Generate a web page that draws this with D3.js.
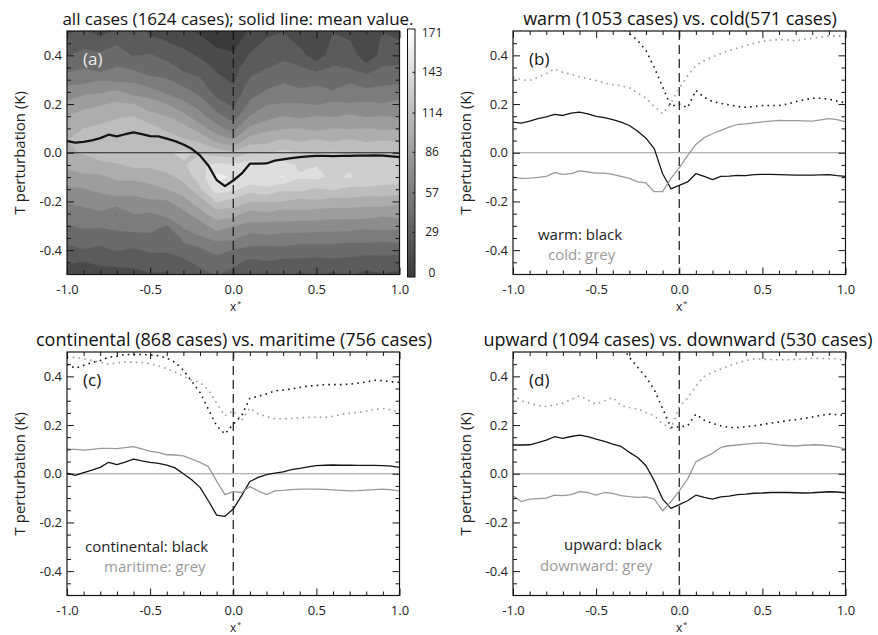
<!DOCTYPE html>
<html>
<head>
<meta charset="utf-8">
<script src="https://cdn.jsdelivr.net/npm/d3@7"></script>
<style>
body { margin: 0; background: #fff; }
text { font-family: "Open Sans", sans-serif; }
</style>
</head>
<body>
<div id="chart"></div>
<script>
///////////////////////////////////////////////////////////////////////////
/////////////////////////////// Data //////////////////////////////////////
///////////////////////////////////////////////////////////////////////////

var xs = [-1.00,-0.95,-0.90,-0.85,-0.80,-0.75,-0.70,-0.65,-0.60,-0.55,-0.50,-0.45,-0.40,-0.35,-0.30,-0.25,-0.20,-0.15,-0.10,-0.05,
  0.00,0.05,0.10,0.15,0.20,0.25,0.30,0.35,0.40,0.45,0.50,0.55,0.60,0.65,0.70,0.75,0.80,0.85,0.90,0.95,1.00];

// (a) mean of all cases
var allMean = [0.048,0.042,0.045,0.051,0.060,0.074,0.067,0.076,0.084,0.076,0.068,0.067,0.058,0.048,0.034,0.016,-0.011,-0.052,-0.112,-0.137,
  -0.114,-0.086,-0.045,-0.045,-0.044,-0.032,-0.027,-0.022,-0.018,-0.015,-0.013,-0.013,-0.014,-0.013,-0.013,-0.012,-0.012,-0.011,-0.012,-0.015,-0.018];

// (b) warm vs cold
var warmMean = [0.126,0.122,0.130,0.140,0.147,0.158,0.153,0.163,0.167,0.160,0.149,0.144,0.136,0.126,0.112,0.088,0.060,0.016,-0.086,-0.148,
  -0.134,-0.120,-0.086,-0.097,-0.110,-0.097,-0.096,-0.093,-0.094,-0.090,-0.089,-0.089,-0.090,-0.091,-0.092,-0.092,-0.092,-0.091,-0.090,-0.094,-0.097];
var coldMean = [-0.100,-0.105,-0.104,-0.101,-0.097,-0.082,-0.089,-0.086,-0.074,-0.079,-0.084,-0.084,-0.089,-0.097,-0.105,-0.120,-0.124,-0.160,-0.160,-0.105,
  -0.062,-0.012,0.034,0.062,0.078,0.092,0.105,0.116,0.119,0.123,0.127,0.130,0.133,0.132,0.132,0.131,0.130,0.135,0.140,0.136,0.127];
var warmSd = [0.72,0.71,0.70,0.70,0.69,0.68,0.67,0.66,0.65,0.63,0.61,0.59,0.56,0.53,0.49,0.46,0.42,0.35,0.27,0.19,
  0.200,0.185,0.256,0.228,0.210,0.203,0.197,0.190,0.187,0.190,0.194,0.194,0.194,0.200,0.210,0.217,0.224,0.224,0.220,0.212,0.205];
var coldSd = [0.310,0.300,0.297,0.310,0.325,0.345,0.330,0.322,0.312,0.304,0.297,0.286,0.280,0.275,0.267,0.245,0.225,0.190,0.160,0.205,
  0.265,0.315,0.358,0.378,0.393,0.408,0.420,0.430,0.440,0.450,0.457,0.462,0.465,0.463,0.460,0.466,0.470,0.475,0.480,0.480,0.477];

// (c) continental vs maritime
var contMean = [0.003,-0.007,0.005,0.015,0.026,0.047,0.037,0.048,0.060,0.053,0.047,0.043,0.035,0.024,0.000,-0.025,-0.056,-0.111,-0.170,-0.175,
  -0.145,-0.090,-0.032,-0.015,-0.004,0.003,0.008,0.017,0.022,0.028,0.033,0.035,0.036,0.035,0.035,0.034,0.034,0.034,0.033,0.031,0.026];
var mariMean = [0.101,0.100,0.097,0.100,0.104,0.104,0.103,0.107,0.111,0.102,0.092,0.088,0.078,0.077,0.073,0.060,0.047,0.029,-0.030,-0.086,
  -0.073,-0.077,-0.053,-0.070,-0.086,-0.070,-0.068,-0.065,-0.063,-0.063,-0.063,-0.064,-0.066,-0.068,-0.070,-0.069,-0.067,-0.065,-0.063,-0.066,-0.070];
var contSd = [0.450,0.433,0.445,0.457,0.465,0.478,0.483,0.490,0.490,0.490,0.488,0.485,0.475,0.458,0.425,0.380,0.334,0.265,0.197,0.163,
  0.204,0.238,0.310,0.318,0.328,0.340,0.344,0.348,0.354,0.360,0.363,0.366,0.366,0.366,0.368,0.372,0.377,0.384,0.382,0.378,0.375];
var mariSd = [0.478,0.478,0.472,0.465,0.458,0.450,0.455,0.459,0.458,0.457,0.452,0.443,0.432,0.418,0.400,0.384,0.375,0.345,0.290,0.238,
  0.259,0.218,0.270,0.246,0.235,0.226,0.226,0.227,0.229,0.232,0.232,0.232,0.236,0.244,0.248,0.252,0.258,0.264,0.268,0.262,0.255];

// (d) upward vs downward
var upMean = [0.118,0.118,0.119,0.128,0.138,0.152,0.145,0.153,0.159,0.152,0.142,0.133,0.122,0.112,0.088,0.067,0.033,-0.029,-0.104,-0.142,
  -0.127,-0.111,-0.088,-0.097,-0.104,-0.095,-0.092,-0.086,-0.084,-0.080,-0.079,-0.077,-0.077,-0.077,-0.078,-0.079,-0.078,-0.076,-0.074,-0.075,-0.078];
var downMean = [-0.090,-0.114,-0.104,-0.102,-0.100,-0.088,-0.090,-0.086,-0.073,-0.077,-0.088,-0.077,-0.081,-0.090,-0.094,-0.097,-0.095,-0.104,-0.152,-0.115,
  -0.070,-0.022,0.049,0.067,0.084,0.108,0.115,0.118,0.122,0.125,0.127,0.123,0.119,0.116,0.114,0.117,0.119,0.118,0.115,0.110,0.101];
var upSd = [0.75,0.74,0.73,0.72,0.71,0.70,0.69,0.68,0.66,0.64,0.62,0.60,0.57,0.53,0.478,0.437,0.397,0.345,0.268,0.190,
  0.193,0.197,0.245,0.220,0.207,0.197,0.190,0.190,0.193,0.197,0.202,0.208,0.212,0.218,0.222,0.227,0.233,0.240,0.245,0.243,0.238];
var downSd = [0.327,0.300,0.290,0.280,0.276,0.283,0.290,0.305,0.320,0.303,0.286,0.300,0.313,0.279,0.272,0.266,0.252,0.238,0.205,0.186,
  0.275,0.310,0.360,0.400,0.416,0.430,0.443,0.455,0.465,0.471,0.470,0.469,0.468,0.468,0.470,0.472,0.474,0.474,0.472,0.472,0.464];

// (a) number of cases per (x*, T) cell; rows from T=0.5 down to T=-0.5
var gridX = [-1.0,-0.9,-0.8,-0.7,-0.6,-0.5,-0.4,-0.3,-0.2,-0.1,0.0,0.1,0.2,0.3,0.4,0.5,0.6,0.7,0.8,0.9,1.0];
var gridY = [0.5,0.45,0.4,0.35,0.3,0.25,0.2,0.15,0.1,0.05,0.0,-0.05,-0.1,-0.15,-0.2,-0.25,-0.3,-0.35,-0.4,-0.45,-0.5];
var caseCounts = [
  [26,30,24,30,34,26,22,18,12,8,6,16,24,28,22,22,28,24,22,28,24],
  [34,40,34,42,38,32,30,24,18,12,10,22,32,34,26,16,32,30,16,32,30],
  [42,46,46,48,42,44,38,34,26,18,16,30,38,40,34,20,36,38,18,34,38],
  [52,56,50,58,54,50,48,40,36,26,22,38,42,46,44,38,44,42,34,44,44],
  [64,66,70,68,68,60,58,48,44,32,26,44,52,54,50,52,50,54,50,52,54],
  [78,82,84,88,80,78,68,64,52,38,32,52,58,64,60,62,58,64,60,62,62],
  [88,96,98,102,100,92,86,74,66,48,40,60,70,72,72,70,74,72,74,72,76],
  [100,104,110,112,114,104,100,90,76,62,50,72,80,86,82,86,84,88,84,86,84],
  [106,114,116,122,118,120,110,106,92,76,66,88,96,98,100,96,100,98,100,98,98],
  [114,116,122,124,126,122,124,116,112,96,88,106,110,116,112,116,112,116,112,114,112],
  [110,116,118,124,122,128,126,132,126,122,116,128,126,132,128,126,130,124,126,124,126],
  [104,104,112,112,118,116,124,126,140,146,144,150,148,148,140,142,138,140,134,138,132],
  [92,98,96,104,102,108,108,120,134,162,154,156,152,158,144,146,140,144,136,140,134],
  [84,84,90,90,94,92,100,104,126,150,146,134,140,130,132,126,130,124,126,122,124],
  [72,78,76,82,78,84,84,96,106,130,122,114,114,114,108,112,106,110,104,108,102],
  [66,64,70,56,72,70,78,80,96,106,106,94,98,92,96,92,94,90,94,88,92],
  [56,60,58,62,60,64,56,74,78,94,86,82,80,82,78,80,76,80,74,78,74],
  [50,48,52,50,54,52,44,60,70,74,74,64,68,64,66,62,66,60,64,60,64],
  [36,42,38,44,40,46,44,52,54,64,56,54,50,54,48,52,48,52,46,50,46],
  [30,28,32,30,34,32,38,38,48,48,48,38,42,38,40,36,40,36,38,34,38],
  [20,24,20,26,22,28,26,34,36,44,36,32,28,32,26,30,26,30,24,28,24]
];

var barTicks = [0,29,57,86,114,143,171];
var xTicks = [-1.0,-0.5,0.0,0.5,1.0];
var yTicks = [-0.4,-0.2,0.0,0.2,0.4];
var xMinor = [-0.9,-0.8,-0.7,-0.6,-0.4,-0.3,-0.2,-0.1,0.1,0.2,0.3,0.4,0.6,0.7,0.8,0.9];
var yMinor = [-0.45,-0.35,-0.3,-0.25,-0.15,-0.1,-0.05,0.05,0.1,0.15,0.25,0.3,0.35,0.45];

var titles = ["all cases (1624 cases); solid line: mean value.",
  "warm (1053 cases) vs. cold(571 cases)",
  "continental (868 cases) vs. maritime (756 cases)",
  "upward (1094 cases) vs. downward (530 cases)"];

///////////////////////////////////////////////////////////////////////////
/////////////////////////// Set up svg ////////////////////////////////////
///////////////////////////////////////////////////////////////////////////

var width = 878, height = 635;
var plotW = 332.5, plotH = 243.5;
var black = "#151515", grey = "#9a9a9a";

var svg = d3.select("#chart").append("svg")
  .attr("width", width)
  .attr("height", height);
var defs = svg.append("defs");

var solid = function(v, c){ return {v: v, col: c, w: 1.3, dash: null}; };
var dotted = function(v, c){ return {v: v, col: c, w: 1.6, dash: "1.6,4.2"}; };

var panels = [
  {id: "a", left: 67, top: 31, title: titles[0], titleX: 238, titleSize: 17, zeroCol: "#222", labelCol: "#eee",
    lines: [{v: allMean, col: black, w: 2.3, dash: null}], legend: []},
  {id: "b", left: 513, top: 31, title: titles[1], titleX: 680, titleSize: 18, zeroCol: grey, labelCol: black,
    lines: [dotted(warmSd, black), dotted(coldSd, grey), solid(warmMean, black), solid(coldMean, grey)],
    legend: [{t: "warm: black", c: "#222", dx: 25, y: 208.8}, {t: "cold: grey", c: grey, dx: 35, y: 229.4}]},
  {id: "c", left: 67, top: 352, title: titles[2], titleX: 234, titleSize: 18, zeroCol: grey, labelCol: black,
    lines: [dotted(contSd, black), dotted(mariSd, grey), solid(contMean, black), solid(mariMean, grey)],
    legend: [{t: "continental: black", c: "#222", dx: 18, y: 199.8}, {t: "maritime: grey", c: grey, dx: 37, y: 220.4}]},
  {id: "d", left: 513, top: 352, title: titles[3], titleX: 678, titleSize: 18, zeroCol: grey, labelCol: black,
    lines: [dotted(upSd, black), dotted(downSd, grey), solid(upMean, black), solid(downMean, grey)],
    legend: [{t: "upward: black", c: "#222", dx: 51, y: 198.3}, {t: "downward: grey", c: grey, dx: 27, y: 218.9}]}
];

var x = d3.scaleLinear().domain([-1, 1]).range([0, plotW]);
var y = d3.scaleLinear().domain([-0.5, 0.5]).range([plotH, 0]);
var grayCol = d3.scaleLinear().domain([0, 171]).range(["#3a3a3a", "#ffffff"]);

var line = d3.line()
  .x(function(d, i){ return x(xs[i]); })
  .y(function(d){ return y(d); });

///////////////////////////////////////////////////////////////////////////
/////////////////////////// Draw panels ///////////////////////////////////
///////////////////////////////////////////////////////////////////////////

panels.forEach(function(p){
  var g = svg.append("g").attr("transform", "translate(" + p.left + "," + p.top + ")");

  defs.append("clipPath").attr("id", "clip-" + p.id)
    .append("rect").attr("width", plotW).attr("height", plotH);

  var inner = g.append("g").attr("clip-path", "url(#clip-" + p.id + ")");

  // filled contours of the case counts, panel (a) only
  if (p.id == "a") {
    var flat = [];
    caseCounts.forEach(function(row){ row.forEach(function(v){ flat.push(v); }); });
    var levels = d3.range(0, 171, 14.25);
    var cx = d3.scaleLinear().domain([0.5, gridX.length - 0.5]).range([x(gridX[0]), x(gridX[gridX.length - 1])]);
    var cy = d3.scaleLinear().domain([0.5, gridY.length - 0.5]).range([y(gridY[0]), y(gridY[gridY.length - 1])]);
    var proj = d3.geoTransform({point: function(px, py){ this.stream.point(cx(px), cy(py)); }});
    var contours = d3.contours().size([gridX.length, gridY.length]).thresholds(levels)(flat);
    inner.selectAll("path.band").data(contours).enter().append("path")
      .attr("class", "band")
      .attr("d", d3.geoPath(proj))
      .attr("fill", function(d){ return grayCol(d.value); })
      .attr("stroke", function(d){ return grayCol(d.value); })
      .attr("stroke-width", 0.3);
  }

  // zero line and x*=0 line
  inner.append("line")
    .attr("x1", 0).attr("x2", plotW)
    .attr("y1", y(0)).attr("y2", y(0))
    .attr("stroke", p.zeroCol).attr("stroke-width", 1);
  inner.append("line")
    .attr("x1", x(0)).attr("x2", x(0))
    .attr("y1", 0).attr("y2", plotH)
    .attr("stroke", black).attr("stroke-width", 1.2)
    .attr("stroke-dasharray", "9,5");

  inner.selectAll("path.series").data(p.lines).enter().append("path")
    .attr("class", "series")
    .attr("d", function(d){ return line(d.v); })
    .attr("fill", "none")
    .attr("stroke", function(d){ return d.col; })
    .attr("stroke-width", function(d){ return d.w; })
    .attr("stroke-dasharray", function(d){ return d.dash; })
    .attr("stroke-linejoin", "round");

  // axes: ticks point inward on all four sides
  var fmt = function(d){ return d.toFixed(1); };
  var addAxis = function(axis, tr, labels){
    var a = g.append("g").attr("transform", tr).call(axis);
    a.select(".domain").remove();
    a.selectAll("line").attr("stroke", black).attr("stroke-width", 1);
    if (labels) a.selectAll("text").style("font-size", "13px").attr("fill", "#222");
    else a.selectAll("text").remove();
    return a;
  };
  addAxis(d3.axisBottom(x).tickValues(xTicks).tickSize(-7).tickPadding(10).tickFormat(fmt), "translate(0," + plotH + ")", true);
  addAxis(d3.axisBottom(x).tickValues(xMinor).tickSize(-4), "translate(0," + plotH + ")", false);
  addAxis(d3.axisTop(x).tickValues(xTicks).tickSize(-7), "translate(0,0)", false);
  addAxis(d3.axisTop(x).tickValues(xMinor).tickSize(-4), "translate(0,0)", false);
  addAxis(d3.axisLeft(y).tickValues(yTicks).tickSize(-7).tickPadding(5).tickFormat(fmt), "translate(0,0)", true);
  addAxis(d3.axisLeft(y).tickValues(yMinor).tickSize(-4), "translate(0,0)", false);
  addAxis(d3.axisRight(y).tickValues(yTicks).tickSize(-7), "translate(" + plotW + ",0)", false);
  addAxis(d3.axisRight(y).tickValues(yMinor).tickSize(-4), "translate(" + plotW + ",0)", false);

  g.append("rect")
    .attr("width", plotW).attr("height", plotH)
    .attr("fill", "none").attr("stroke", black).attr("stroke-width", 1.2);

  // labels
  g.append("text")
    .attr("x", 16).attr("y", 34)
    .attr("fill", p.labelCol)
    .style("font-size", "17px")
    .text("(" + p.id + ")");

  svg.append("text")
    .attr("x", p.titleX).attr("y", p.top - 6)
    .attr("text-anchor", "middle")
    .attr("fill", "#111")
    .style("font-size", p.titleSize + "px")
    .text(p.title);

  g.append("text")
    .attr("transform", "translate(" + (-47) + "," + (plotH / 2) + ") rotate(-90)")
    .attr("text-anchor", "middle")
    .attr("dy", "0.35em")
    .attr("fill", "#222")
    .style("font-size", "15px")
    .text("T perturbation (K)");

  // x* label: the asterisk sits as a small raised mark right of the x
  g.append("text")
    .attr("x", plotW / 2).attr("y", plotH + 36.4)
    .attr("text-anchor", "middle")
    .attr("fill", "#222")
    .style("font-size", "12px")
    .text("x");
  g.append("text")
    .attr("x", plotW / 2 + 4).attr("y", plotH + 31.5)
    .attr("fill", "#222")
    .style("font-size", "7px")
    .text("*");

  g.selectAll("text.legend").data(p.legend).enter().append("text")
    .attr("class", "legend")
    .attr("x", function(d){ return d.dx; })
    .attr("y", function(d){ return d.y; })
    .attr("fill", function(d){ return d.c; })
    .style("font-size", "15px")
    .text(function(d){ return d.t; });
});

///////////////////////////////////////////////////////////////////////////
/////////////////////////// Colour bar ////////////////////////////////////
///////////////////////////////////////////////////////////////////////////

var cbY = d3.scaleLinear().domain([0, 171]).range([273, 33]);
var grad = defs.append("linearGradient").attr("id", "cbGrad")
  .attr("x1", 0).attr("y1", 1).attr("x2", 0).attr("y2", 0);
grad.append("stop").attr("offset", "0%").attr("stop-color", grayCol(0));
grad.append("stop").attr("offset", "100%").attr("stop-color", grayCol(171));

svg.append("rect")
  .attr("x", 407.5).attr("y", cbY(171) - 4)
  .attr("width", 7.5).attr("height", cbY(0) - cbY(171) + 8)
  .attr("fill", "url(#cbGrad)")
  .attr("stroke", black).attr("stroke-width", 1);

svg.selectAll("line.cbtick").data(barTicks.slice(1, -1)).enter().append("line")
  .attr("class", "cbtick")
  .attr("x1", 412.5).attr("x2", 415)
  .attr("y1", function(d){ return cbY(d); }).attr("y2", function(d){ return cbY(d); })
  .attr("stroke", black).attr("stroke-width", 1);

svg.selectAll("text.cb").data(barTicks).enter().append("text")
  .attr("class", "cb")
  .attr("x", 432).attr("y", function(d){ return cbY(d); })
  .attr("dy", "0.35em")
  .attr("text-anchor", "middle")
  .attr("fill", "#222")
  .style("font-size", "12px")
  .text(function(d){ return d; });
</script>
</body>
</html>
